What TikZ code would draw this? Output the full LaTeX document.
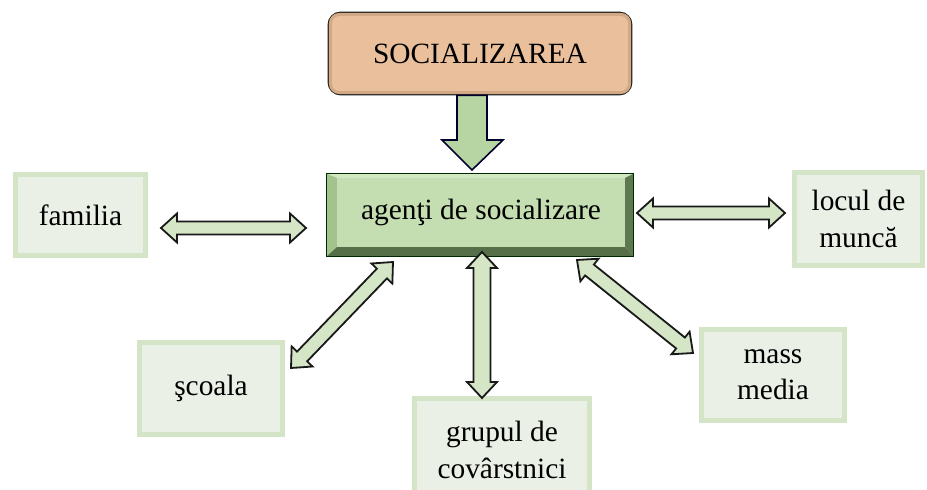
\documentclass[tikz,border=0pt]{standalone}
\usepackage{fontspec}
\setmainfont{Liberation Serif}
\usetikzlibrary{calc}
\definecolor{socfill}{HTML}{E9BF9C}
\definecolor{socedge}{HTML}{D3A885}
\definecolor{lboxfill}{HTML}{EAF0E5}
\definecolor{lboxedge}{HTML}{D4E4C7}
\definecolor{arrfill}{HTML}{D4E6C6}
\definecolor{bigarr}{HTML}{B7D5A2}
\definecolor{face}{HTML}{C4DEB1}
\definecolor{bevtop}{HTML}{D2E8C2}
\definecolor{bevleft}{HTML}{A3C38E}
\definecolor{bevright}{HTML}{5E7850}
\definecolor{bevbot}{HTML}{566F48}
\newcommand\hl{16bp}
\newcommand\hw{14.5bp}
\newcommand\sw{6.5bp}
\newcommand\barrow[3][]{%
\draw[barrowsty,#1] (#2) -- ($(#2)!\hl!(#3)!\hw!90:(#3)$) -- ($(#2)!\hl!(#3)!\sw!90:(#3)$)
 -- ($(#3)!\hl!(#2)!\sw!-90:(#2)$) -- ($(#3)!\hl!(#2)!\hw!-90:(#2)$) -- (#3)
 -- ($(#3)!\hl!(#2)!\hw!90:(#2)$) -- ($(#3)!\hl!(#2)!\sw!90:(#2)$)
 -- ($(#2)!\hl!(#3)!\sw!-90:(#3)$) -- ($(#2)!\hl!(#3)!\hw!-90:(#3)$) -- cycle;}
\tikzset{
  txt/.style={font=\fontsize{29.5}{36.5}\selectfont, align=center, text=black},
  lbox/.style={txt, fill=lboxfill, draw=lboxedge, line width=5bp, inner sep=0pt},
  barrowsty/.style={fill=arrfill, draw=black!90, line width=1.8bp, line join=miter},
}
\begin{document}
\begin{tikzpicture}[x=1bp,y=-1bp]
\clip (0,0) rectangle (927,490);
\fill[white] (0,0) rectangle (927,490);
% top box
\node[fill=socfill, draw=black!88, line width=1.8bp, rounded corners=12bp,
      minimum width=303bp, minimum height=82bp, inner sep=0pt] (soc) at (480,53.5) {};
\draw[socedge, line width=3bp, rounded corners=9bp]
  ($(soc.north west)+(2.8,2.8)$) rectangle ($(soc.south east)+(-2.8,-2.8)$);
\node[txt] (soct) at (soc.center) {SOCIALIZAREA};
% central bevel box
\node[minimum width=306bp, minimum height=82bp, inner sep=0pt] (ag) at (480,215) {};
\fill[face] ($(ag.north west)+(10,4)$) rectangle ($(ag.south east)+(-8,-9)$);
\fill[bevtop] (ag.north west) -- (ag.north east) -- ($(ag.north east)+(-8,4)$) -- ($(ag.north west)+(10,4)$) -- cycle;
\fill[bevleft] (ag.north west) -- ($(ag.north west)+(10,4)$) -- ($(ag.south west)+(10,-9)$) -- (ag.south west) -- cycle;
\fill[bevright] (ag.north east) -- ($(ag.north east)+(-8,4)$) -- ($(ag.south east)+(-8,-9)$) -- (ag.south east) -- cycle;
\fill[bevbot] (ag.south west) -- ($(ag.south west)+(10,-9)$) -- ($(ag.south east)+(-8,-9)$) -- (ag.south east) -- cycle;
\draw[black!60!green!40!black, line width=0.8bp] (ag.north west) rectangle (ag.south east);
\node[txt] (agt) at (481,212) {agen\c{t}i de socializare};
% outer boxes
\node[lbox, minimum width=130bp, minimum height=81bp] (fam) at (80.5,215) {familia};
\node[lbox, minimum width=128bp, minimum height=93bp] (loc) at (858.5,219) {locul de\\munc\u{a}};
\node[lbox, minimum width=143bp, minimum height=91bp] (mass) at (773,375) {mass\\media};
\node[lbox, minimum width=143bp, minimum height=92bp] (sco) at (211,388.5) {\c{s}coala};
\node[lbox, minimum width=175bp, minimum height=104bp] (grup) at (502,450) {grupul de\\cov\^{a}rstnici};
% big down arrow
\coordinate (d1) at (soc.south -| 472,0);
\coordinate (d2) at (472,170);
\draw[fill=bigarr, draw=black!70!blue!60!black, line width=1.6bp, line join=miter]
  ($(d1)+(-15,0)$) -- ($(d1)+(15,0)$) -- ($(d2)+(15,-30)$) -- ($(d2)+(31,-30)$) -- (d2)
  -- ($(d2)+(-30,-30)$) -- ($(d2)+(-15,-30)$) -- cycle;
% double arrows
\coordinate (fa1) at (161,228);
\coordinate (fa2) at (306,228);
\coordinate (la1) at (637,213);
\coordinate (la2) at (785,213);
\coordinate (ga1) at (482,252);
\coordinate (ga2) at (482,398);
\coordinate (sa1) at (393,262);
\coordinate (sa2) at (291,368);
\coordinate (ma1) at (577,260);
\coordinate (ma2) at (693,353);
\barrow{fa1}{fa2}
\barrow{la1}{la2}
\renewcommand\sw{8.5bp}\renewcommand\hw{15bp}
\barrow{ga1}{ga2}
\renewcommand\sw{7bp}\renewcommand\hw{14.5bp}
\barrow{sa1}{sa2}
\barrow{ma1}{ma2}
\end{tikzpicture}
\end{document}
